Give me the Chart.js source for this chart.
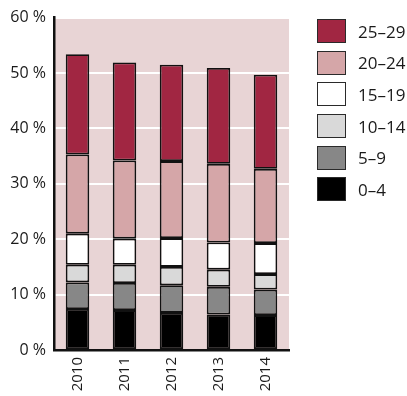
<!DOCTYPE html>
<html>
<head>
<meta charset="utf-8">
<script src="https://cdn.jsdelivr.net/npm/chart.js@4/dist/chart.umd.min.js"></script>
<style>
  html, body { margin: 0; padding: 0; background: #ffffff; }
  #wrap { position: relative; width: 407px; height: 396px; }
  #chart { position: absolute; left: 0; top: 0; }
  #legend { position: absolute; left: 317px; top: 19px; font-family: "Open Sans", sans-serif; font-size: 17px; color: #1a1a1a; }
  .item { display: flex; align-items: center; height: 24px; margin-bottom: 7.7px; }
  .swatch { width: 27px; height: 22px; border: 1px solid #2a2a2a; margin-right: 12px; }
</style>
</head>
<body>
<div id="wrap">
  <canvas id="chart" width="407" height="396"></canvas>
  <div id="legend"></div>
</div>
<script>
// Share of each age group (percent), stacked from youngest to oldest
const years = ['2010', '2011', '2012', '2013', '2014'];
const ageGroups = ['0–4', '5–9', '10–14', '15–19', '20–24', '25–29'];
const age0to4   = [7.4, 7.2, 6.7, 6.4, 6.3];
const age5to9   = [4.8, 4.9, 5.0, 5.0, 4.6];
const age10to14 = [3.2, 3.3, 3.3, 3.1, 2.8];
const age15to19 = [5.6, 4.7, 5.2, 4.9, 5.6];
const age20to24 = [14.3, 14.1, 13.9, 14.2, 13.4];
const age25to29 = [18.1, 17.7, 17.4, 17.3, 17.0];
const yTicks = [0, 10, 20, 30, 40, 50, 60];

const seriesValues = [age0to4, age5to9, age10to14, age15to19, age20to24, age25to29];
const seriesColors = ['#000000', '#878787', '#d9d9d9', '#ffffff', '#d5a6a8', '#a12642'];

const datasets = ageGroups.map((name, i) => ({
  label: name,
  data: seriesValues[i],
  backgroundColor: seriesColors[i],
  borderColor: '#111111',
  borderWidth: 1.8,
  borderSkipped: false,
  barPercentage: 0.5,
  categoryPercentage: 1.0
}));

// Pink fill behind the plotting area
const plotBackground = {
  id: 'plotBackground',
  beforeDraw(chart) {
    const { ctx, chartArea: a } = chart;
    ctx.save();
    ctx.fillStyle = '#e8d4d5';
    ctx.fillRect(a.left, a.top, a.right - a.left, a.bottom - a.top);
    ctx.restore();
  }
};

Chart.defaults.font.family = "'Open Sans', sans-serif";
Chart.defaults.font.size = 16;
Chart.defaults.color = '#1a1a1a';

new Chart(document.getElementById('chart'), {
  type: 'bar',
  data: { labels: years, datasets },
  plugins: [plotBackground],
  options: {
    responsive: false,
    animation: false,
    layout: { padding: { top: 17, right: 118, left: 0, bottom: 0 } },
    plugins: { legend: { display: false }, tooltip: { enabled: false } },
    scales: {
      x: {
        stacked: true,
        grid: { display: false, drawTicks: false },
        border: { display: true, color: '#111111', width: 2.5 },
        ticks: { font: { size: 15 }, minRotation: 90, maxRotation: 90, padding: 7 },
        afterFit(scale) { scale.height = 46; }
      },
      y: {
        stacked: true,
        min: 0,
        max: 60,
        afterBuildTicks(scale) { scale.ticks = yTicks.map(v => ({ value: v })); },
        grid: { color: '#ffffff', lineWidth: 2, drawTicks: false },
        border: { display: true, color: '#111111', width: 2.5 },
        ticks: {
          font: { size: 16 },
          padding: 8,
          callback: v => v + ' %'
        },
        afterFit(scale) { scale.width = 54; }
      }
    }
  }
});

// Legend, oldest group on top
const legend = document.getElementById('legend');
for (let i = ageGroups.length - 1; i >= 0; i--) {
  const item = document.createElement('div');
  item.className = 'item';
  const sw = document.createElement('div');
  sw.className = 'swatch';
  sw.style.background = seriesColors[i];
  const tx = document.createElement('span');
  tx.textContent = ageGroups[i];
  item.appendChild(sw);
  item.appendChild(tx);
  legend.appendChild(item);
}
</script>
</body>
</html>
